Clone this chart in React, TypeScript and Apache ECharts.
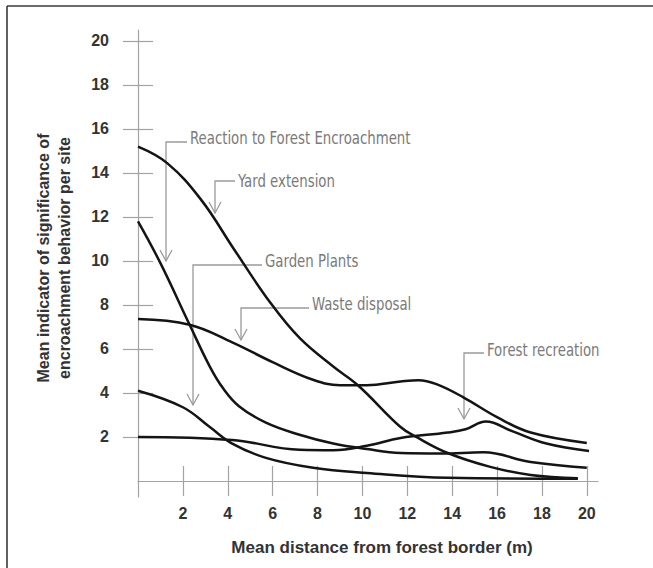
import React, { useEffect, useRef } from "react";
import * as echarts from "echarts";

// Tick values shown on the axes
const xTickValues = [2, 4, 6, 8, 10, 12, 14, 16, 18, 20];
const yTickValues = [2, 4, 6, 8, 10, 12, 14, 16, 18, 20];

// Series values: [distance (m), mean indicator]
const yardExtension = [
  [0, 15.2], [1.3, 14.45], [2.8, 12.8], [4.3, 10.5], [5.9, 8.1], [7.2, 6.5],
  [8.7, 5.2], [9.8, 4.35], [11.7, 2.45], [12.4, 2.0], [13.8, 1.27],
  [15.7, 0.64], [17.5, 0.27], [19.6, 0.12],
];
const reactionToEncroachment = [
  [0, 11.8], [1, 9.9], [2.3, 7.1], [3.2, 5.2], [3.8, 4.2], [4.5, 3.4],
  [5.7, 2.65], [7.2, 2.1], [8.7, 1.7], [10.2, 1.45], [11.7, 1.27],
  [13.5, 1.25], [15.4, 1.3], [17.5, 0.86], [20, 0.6],
];
const wasteDisposal = [
  [0, 7.36], [2.3, 7.1], [4.2, 6.3], [6, 5.4], [7.8, 4.6], [9, 4.35],
  [10.2, 4.35], [11.7, 4.52], [12.5, 4.58], [13.3, 4.4], [14.5, 3.8],
  [16, 2.9], [17.5, 2.2], [20, 1.73],
];
const gardenPlants = [
  [0, 4.1], [2, 3.35], [3.2, 2.45], [4.2, 1.7], [5.7, 1.05], [7.8, 0.6],
  [10.2, 0.36], [13.8, 0.14], [19.6, 0.1],
];
const forestRecreation = [
  [0, 2.0], [4.2, 1.86], [7.2, 1.42], [8.7, 1.4], [10.2, 1.6], [11.7, 1.95],
  [13.8, 2.2], [14.6, 2.35], [15.5, 2.7], [16.7, 2.25], [18.2, 1.7], [20.1, 1.36],
];

const seriesNames = [
  "Yard extension",
  "Reaction to Forest Encroachment",
  "Waste disposal",
  "Garden Plants",
  "Forest recreation",
];
const seriesData = [yardExtension, reactionToEncroachment, wasteDisposal, gardenPlants, forestRecreation];

const AXIS_COLOR = "#a3a3a3";
const LEADER_COLOR = "#9a9a9a";
const NOTE_COLOR = "#7a7a7a";
const NOTE_FONT = "'Liberation Sans Narrow', 'DejaVu Sans Condensed', sans-serif";
const BOLD_FONT = "'Liberation Sans', Arial, sans-serif";

function note(text: string, tx: number, ty: number, lineY: number, ax: number, tipY: number) {
  return [
    {
      type: "polyline",
      shape: { points: [[tx - 3, lineY], [ax, lineY], [ax, tipY]] },
      style: { stroke: LEADER_COLOR, lineWidth: 1.3, fill: null },
    },
    {
      type: "polyline",
      shape: { points: [[ax - 6, tipY - 11], [ax, tipY], [ax + 6, tipY - 11]] },
      style: { stroke: LEADER_COLOR, lineWidth: 1.3, fill: null },
    },
    {
      type: "text",
      x: tx,
      y: ty,
      scaleX: 0.87,
      style: {
        text,
        fill: NOTE_COLOR,
        font: `17px ${NOTE_FONT}`,
        textAlign: "left",
        textVerticalAlign: "middle",
      },
    },
  ];
}

export default function App() {
  const ref = useRef<HTMLDivElement>(null);
  useEffect(() => {
    if (!ref.current) return;
    const chart = echarts.init(ref.current, null, { renderer: "svg" });
    const tickStyle = { color: AXIS_COLOR, width: 1.2 };
    chart.setOption({
      animation: false,
      backgroundColor: "#ffffff",
      grid: { left: 138, right: 55, top: 30, bottom: 71 },
      xAxis: [
        {
          type: "value",
          min: 0,
          max: 20.5,
          position: "bottom",
          axisLine: { show: true, onZero: true, lineStyle: tickStyle },
          axisTick: { show: true, inside: false, length: 15, customValues: xTickValues, lineStyle: tickStyle },
          axisLabel: {
            customValues: xTickValues,
            margin: 8,
            fontSize: 16,
            fontWeight: "bold",
            color: "#333",
            fontFamily: BOLD_FONT,
          },
          splitLine: { show: false },
        },
        {
          type: "value",
          min: 0,
          max: 20.5,
          position: "bottom",
          axisLine: { show: false, onZero: true },
          axisTick: { show: true, inside: true, length: 15, customValues: xTickValues, lineStyle: tickStyle },
          axisLabel: { show: false },
          splitLine: { show: false },
        },
      ],
      yAxis: [
        {
          type: "value",
          min: -0.73,
          max: 20.5,
          position: "left",
          axisLine: { show: true, onZero: true, lineStyle: tickStyle },
          axisTick: { show: true, inside: false, length: 15, customValues: yTickValues, lineStyle: tickStyle },
          axisLabel: {
            customValues: yTickValues,
            margin: 29,
            fontSize: 16,
            fontWeight: "bold",
            color: "#333",
            fontFamily: BOLD_FONT,
          },
          splitLine: { show: false },
        },
        {
          type: "value",
          min: -0.73,
          max: 20.5,
          position: "left",
          axisLine: { show: false, onZero: true },
          axisTick: { show: true, inside: true, length: 15, customValues: yTickValues, lineStyle: tickStyle },
          axisLabel: { show: false },
          splitLine: { show: false },
        },
      ],
      series: seriesData.map((d, i) => ({
        type: "line",
        name: seriesNames[i],
        data: d,
        xAxisIndex: 0,
        yAxisIndex: 0,
        smooth: 0.4,
        symbol: "none",
        lineStyle: { color: "#141414", width: 2.5 },
        z: 3,
      })),
      graphic: [
        {
          type: "line",
          shape: { x1: 7, y1: 6, x2: 653, y2: 6 },
          style: { stroke: "#3a3a3a", lineWidth: 1.6 },
        },
        {
          type: "line",
          shape: { x1: 7, y1: 6, x2: 7, y2: 568 },
          style: { stroke: "#3a3a3a", lineWidth: 1.6 },
        },
        {
          type: "text",
          x: 54,
          y: 258,
          rotation: Math.PI / 2,
          style: {
            text: "Mean indicator of significance of\nencroachment behavior per site",
            fill: "#333",
            font: `bold 16px ${BOLD_FONT}`,
            lineHeight: 21,
            textAlign: "center",
            textVerticalAlign: "middle",
          },
        },
        {
          type: "text",
          x: 382,
          y: 547,
          style: {
            text: "Mean distance from forest border (m)",
            fill: "#333",
            font: `bold 17px ${BOLD_FONT}`,
            textAlign: "center",
            textVerticalAlign: "middle",
          },
        },
        ...note("Reaction to Forest Encroachment", 190, 138, 142, 166, 261),
        ...note("Yard extension", 238, 181, 181, 215, 213),
        ...note("Garden Plants", 265, 261, 265, 193, 405),
        ...note("Waste disposal", 312, 304, 308, 241, 340),
        ...note("Forest recreation", 487, 350, 353, 464, 419),
      ],
    });
    return () => chart.dispose();
  }, []);
  return (
    <div
      ref={ref}
      style={{ position: "fixed", left: 0, top: 0, width: 653, height: 568 }}
    />
  );
}
